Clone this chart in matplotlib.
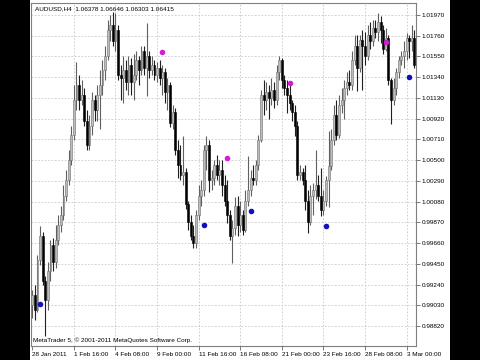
import matplotlib.pyplot as plt
import numpy as np

# header / footer texts
title = "AUDUSD,H4  1.06378 1.06646 1.06303 1.06415"
footer = "MetaTrader 5, \u00a9 2001-2011 MetaQuotes Software Corp."

# H4 bars, open of each bar = close of the previous one
first_open = 0.9903
close = [0.9913, 0.9898, 0.9949, 0.9973, 0.9928, 0.9908, 0.9938, 0.9964, 0.9947, 0.9969,
         0.9984, 0.9994, 1.0014, 1.0030, 1.0050, 1.0075, 1.0111, 1.0126, 1.0111, 1.0116,
         1.0090, 1.0065, 1.0085, 1.0111, 1.0101, 1.0116, 1.0126, 1.0141, 1.0156, 1.0182,
         1.0187, 1.0171, 1.0182, 1.0136, 1.0133, 1.0141, 1.0129, 1.0146, 1.0129, 1.0136,
         1.0151, 1.0141, 1.0161, 1.0143, 1.0156, 1.0141, 1.0146, 1.0136, 1.0143, 1.0133,
         1.0139, 1.0119, 1.0126, 1.0088, 1.0099, 1.0060, 1.0045, 1.0035, 1.0038, 1.0006,
         0.9987, 0.9973, 0.9966, 0.9994, 1.0014, 1.0020, 1.0060, 1.0065, 1.0030, 1.0032,
         1.0045, 1.0035, 1.0040, 1.0025, 1.0009, 0.9994, 0.9973, 0.9981, 1.0004, 0.9984,
         0.9994, 0.9979, 1.0009, 1.0020, 1.0032, 1.0030, 1.0045, 1.0070, 1.0116, 1.0111,
         1.0119, 1.0113, 1.0121, 1.0111, 1.0139, 1.0151, 1.0131, 1.0123, 1.0116, 1.0108,
         1.0099, 1.0085, 1.0035, 1.0038, 1.0030, 1.0009, 0.9987, 1.0014, 1.0020, 1.0025,
         1.0014, 0.9999, 1.0009, 1.0030, 1.0044, 1.0070, 1.0096, 1.0075, 1.0106, 1.0111,
         1.0123, 1.0129, 1.0126, 1.0151, 1.0166, 1.0143, 1.0172, 1.0166, 1.0156, 1.0177,
         1.0171, 1.0184, 1.0180, 1.0190, 1.0182, 1.0163, 1.0174, 1.0131, 1.0111, 1.0123,
         1.0139, 1.0151, 1.0156, 1.0161, 1.0174, 1.0171, 1.0174, 1.0146]
high = [0.9918, 0.9923, 0.9954, 0.9983, 0.9977, 0.9933, 0.9947, 0.9969, 0.9971, 0.9984,
        0.9994, 1.0004, 1.0025, 1.0040, 1.0060, 1.0085, 1.0126, 1.0149, 1.0136, 1.0131,
        1.0123, 1.0101, 1.0096, 1.0119, 1.0116, 1.0126, 1.0141, 1.0151, 1.0166, 1.0192,
        1.0197, 1.0200, 1.0199, 1.0187, 1.0146, 1.0156, 1.0151, 1.0156, 1.0153, 1.0158,
        1.0161, 1.0156, 1.0166, 1.0166, 1.0189, 1.0161, 1.0156, 1.0151, 1.0149, 1.0151,
        1.0146, 1.0143, 1.0133, 1.0129, 1.0106, 1.0103, 1.0070, 1.0065, 1.0074, 1.0042,
        1.0009, 0.9994, 0.9984, 0.9999, 1.0025, 1.0030, 1.0065, 1.0074, 1.0070, 1.0040,
        1.0050, 1.0055, 1.0050, 1.0050, 1.0035, 1.0030, 0.9999, 0.9989, 1.0013, 1.0014,
        1.0009, 0.9999, 1.0020, 1.0054, 1.0040, 1.0045, 1.0050, 1.0075, 1.0121, 1.0131,
        1.0129, 1.0126, 1.0133, 1.0129, 1.0146, 1.0156, 1.0153, 1.0136, 1.0131, 1.0126,
        1.0111, 1.0106, 1.0090, 1.0045, 1.0042, 1.0045, 1.0020, 1.0025, 1.0027, 1.0060,
        1.0035, 1.0042, 1.0020, 1.0034, 1.0080, 1.0082, 1.0106, 1.0111, 1.0116, 1.0123,
        1.0131, 1.0139, 1.0141, 1.0161, 1.0177, 1.0177, 1.0177, 1.0182, 1.0180, 1.0187,
        1.0190, 1.0192, 1.0192, 1.0199, 1.0196, 1.0187, 1.0184, 1.0177, 1.0133, 1.0133,
        1.0143, 1.0156, 1.0161, 1.0171, 1.0179, 1.0177, 1.0187, 1.0182]
low = [0.9890, 0.9888, 0.9896, 0.9944, 0.9923, 0.9872, 0.9898, 0.9928, 0.9938, 0.9941,
       0.9964, 0.9977, 0.9989, 1.0009, 1.0025, 1.0045, 1.0070, 1.0101, 1.0101, 1.0106,
       1.0085, 1.0060, 1.0060, 1.0075, 1.0090, 1.0090, 1.0082, 1.0116, 1.0131, 1.0151,
       1.0171, 1.0166, 1.0161, 1.0131, 1.0111, 1.0108, 1.0121, 1.0116, 1.0116, 1.0111,
       1.0131, 1.0126, 1.0136, 1.0136, 1.0115, 1.0133, 1.0136, 1.0131, 1.0129, 1.0126,
       1.0116, 1.0108, 1.0101, 1.0084, 1.0082, 1.0055, 1.0032, 1.0030, 1.0025, 1.0001,
       0.9979, 0.9969, 0.9961, 0.9961, 0.9989, 1.0004, 1.0014, 1.0040, 1.0018, 1.0020,
       1.0025, 1.0030, 1.0025, 1.0014, 1.0004, 0.9986, 0.9969, 0.9946, 0.9974, 0.9973,
       0.9977, 0.9974, 0.9977, 1.0004, 1.0014, 1.0025, 1.0025, 1.0040, 1.0068, 1.0096,
       1.0101, 1.0092, 1.0106, 1.0103, 1.0106, 1.0131, 1.0123, 1.0116, 1.0098, 1.0101,
       1.0090, 1.0074, 1.0030, 1.0030, 1.0025, 0.9999, 0.9976, 0.9984, 0.9994, 1.0011,
       1.0009, 0.9993, 0.9994, 1.0004, 1.0003, 1.0040, 1.0065, 1.0070, 1.0072, 1.0098,
       1.0092, 1.0116, 1.0121, 1.0121, 1.0146, 1.0120, 1.0139, 1.0121, 1.0146, 1.0151,
       1.0163, 1.0166, 1.0174, 1.0171, 1.0169, 1.0158, 1.0161, 1.0126, 1.0087, 1.0106,
       1.0116, 1.0133, 1.0146, 1.0143, 1.0151, 1.0153, 1.0161, 1.0143]

# indicator dots (bar index, price)
upper_bars = [50, 75, 99, 136]
upper_vals = [1.0160, 1.0052, 1.0128, 1.0170]
lower_bars = [3, 66, 84, 113, 145]
lower_vals = [0.9904, 0.9984, 0.9998, 0.9983, 1.0134]

x_tick_bars = [0, 16, 32, 48, 64, 80, 96, 112, 128, 144]
x_tick_labels = ["28 Jan 2011", "1 Feb 16:00", "4 Feb 08:00", "9 Feb 00:00", "11 Feb 16:00",
                 "16 Feb 08:00", "21 Feb 00:00", "23 Feb 16:00", "28 Feb 08:00", "3 Mar 00:00"]
y_ticks = [0.98820, 0.99030, 0.99240, 0.99450, 0.99660, 0.99870, 1.00080, 1.00290,
           1.00500, 1.00710, 1.00920, 1.01130, 1.01340, 1.01550, 1.01760, 1.01970]

close = np.array(close)
opn = np.concatenate([[first_open], close[:-1]])
high = np.maximum(np.array(high), np.maximum(opn, close))
low = np.minimum(np.array(low), np.minimum(opn, close))
idx = np.arange(len(close))

fnt = 'Liberation Sans'
fs = 4.6

fig = plt.figure(figsize=(4.8, 3.6), dpi=100, facecolor='black')
# white panel between the black side bars
bg = fig.add_axes([30 / 480, 0, 420 / 480, 1], zorder=-5)
bg.set_axis_off()
bg.add_patch(plt.Rectangle((0, 0), 1, 1, facecolor='white', edgecolor='none'))

ax = fig.add_axes([31 / 480, 14 / 360, 385 / 480, 343 / 360])
ax.set_facecolor('white')

ax.set_xlim(-0.5, 147.6)
ax.set_ylim(0.98617, 1.02092)

# grid
for yv in y_ticks:
    ax.axhline(yv, color='#c8c8c8', lw=0.6, ls=(0, (2, 2)), zorder=1)
for xv in x_tick_bars[1:]:
    ax.axvline(xv, color='#c8c8c8', lw=0.6, ls=(0, (2, 2)), zorder=1)

# candles
up = close >= opn
ax.vlines(idx[up], low[up], high[up], color='#606060', lw=0.8, zorder=2)
ax.vlines(idx[~up], low[~up], high[~up], color='#202020', lw=0.8, zorder=2)
ax.bar(idx[up], (close - opn)[up], bottom=opn[up], width=0.75,
       color='#bcbcbc', edgecolor='#707070', linewidth=0.4, zorder=3)
ax.bar(idx[~up], (opn - close)[~up], bottom=close[~up], width=0.75,
       color='black', edgecolor='black', linewidth=0.4, zorder=3)

ax.scatter(upper_bars, upper_vals, s=16, color='#d21ed2', zorder=4, linewidths=0)
ax.scatter(lower_bars, lower_vals, s=16, color='#1010c0', zorder=4, linewidths=0)

# axes look
for sp in ax.spines.values():
    sp.set_color('#808080')
    sp.set_linewidth(0.8)
ax.yaxis.tick_right()
ax.set_yticks(y_ticks)
ax.set_yticklabels(['%.5f' % v for v in y_ticks], fontsize=fs, family=fnt)
ax.tick_params(axis='y', length=3, width=0.6, color='#606060', pad=1)
ax.set_xticks(x_tick_bars)
ax.set_xticklabels(x_tick_labels, fontsize=fs, family=fnt, ha='left')
ax.tick_params(axis='x', length=3, width=0.6, color='#606060', pad=1.5)

ax.text(0.01, 0.99, title, transform=ax.transAxes, fontsize=fs, family=fnt,
        va='top', ha='left')
ax.text(0.004, 0.01, footer, transform=ax.transAxes, fontsize=fs, family=fnt,
        va='bottom', ha='left')

fig.savefig('out.png', dpi=100, facecolor=fig.get_facecolor())
